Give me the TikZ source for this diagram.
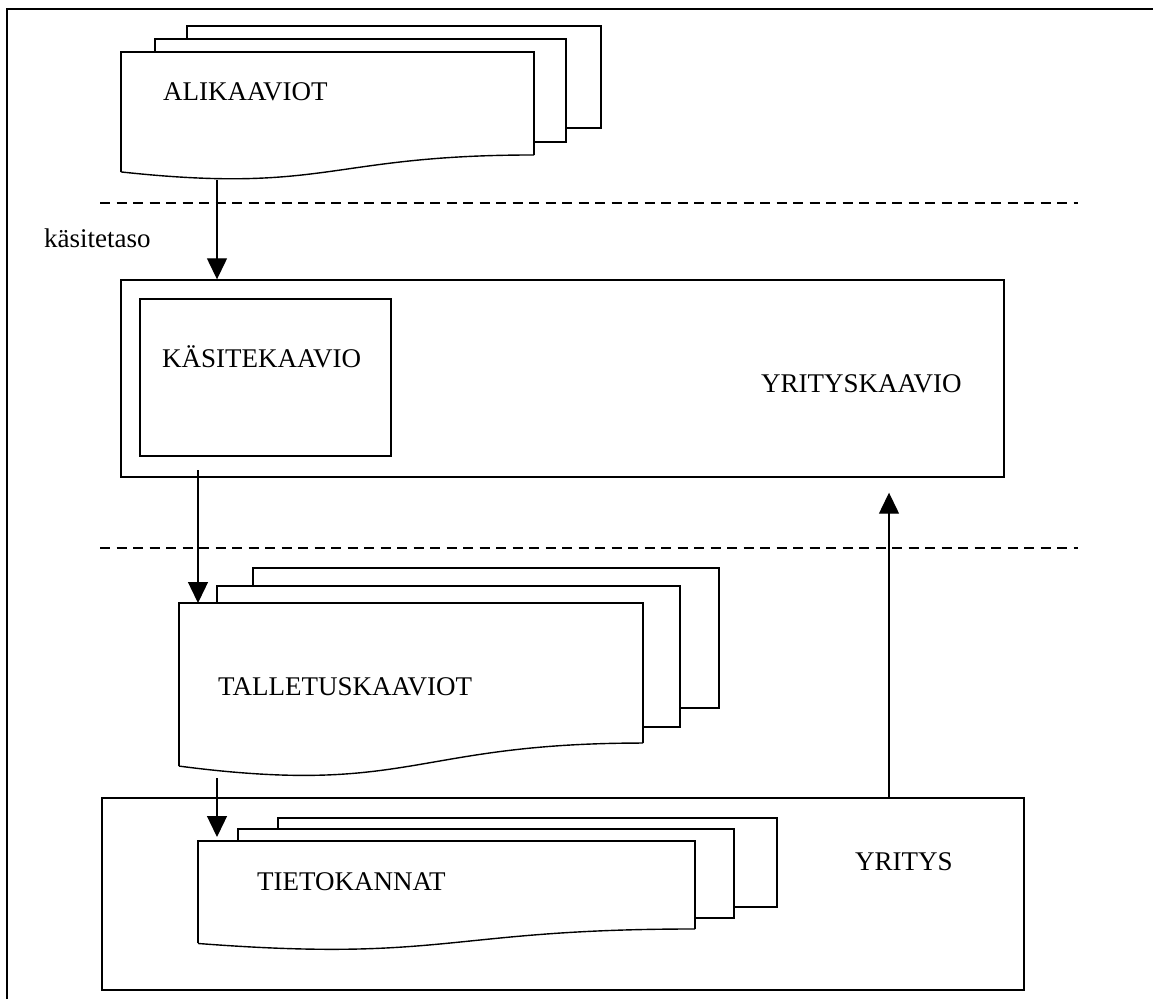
\documentclass[tikz,border=0pt]{standalone}
\usepackage{fontspec}
\setmainfont{Liberation Serif}
\usetikzlibrary{arrows.meta}

% front sheet of a document stack: left, top, right, height
\newcommand{\drawdocfront}[4]{%
  \fill[white] (#1,#2) -- (#3,#2) -- (#3,{#2+0.802*#4})
    .. controls ({(#1+#3)/2},{#2+0.802*#4}) and ({(#1+#3)/2},{#2+1.1075*#4})
    .. (#1,{#2+0.934*#4}) -- cycle;
  \draw[edge] (#1,{#2+0.934*#4}) -- (#1,#2) -- (#3,#2) -- (#3,{#2+0.802*#4});
  \draw[edge] (#3,{#2+0.802*#4})
    .. controls ({(#1+#3)/2},{#2+0.802*#4}) and ({(#1+#3)/2},{#2+1.1075*#4})
    .. (#1,{#2+0.934*#4});}

\tikzset{
  edge/.style={line width=1.4pt, line join=miter},
  page/.style={draw, fill=white, line width=1.4pt, line join=miter},
  box/.style={draw, line width=1.4pt, fill=white, inner sep=0pt},
  label/.style={anchor=base west, inner sep=0pt, font=\fontsize{27}{31}\selectfont},
  arr/.style={line width=1.3pt, -{Triangle[length=21pt,width=20pt]}},
  level/.style={line width=1.5pt, dash pattern=on 10pt off 6.5pt},
  frame/.style={line width=2.2pt}
}

\begin{document}
\begin{tikzpicture}[x=1pt,y=-1pt]
\useasboundingbox (0,0) rectangle (1153,999);

% page frame (top and left edges)
\draw[frame] (7,999) -- (7,9) -- (1153,9);

% level separators
\draw[level] (100,203) -- (1078,203);
\draw[level] (100,548) -- (1078,548);

% sub-schemas stack
\draw[page] (187,26) rectangle (601,128);
\draw[page] (155,39) rectangle (566,142);
\drawdocfront{121}{52}{534}{128.4}
\coordinate (ali-out) at (217,180);
\node[label] (alit) at (163,100) {ALIKAAVIOT};

\node[label] (taso) at (44,247) {käsitetaso};

% enterprise schema with conceptual schema
\node[box, minimum width=883pt, minimum height=197pt] (yk) at (562.5,378.5) {};
\node[box, minimum width=251pt, minimum height=157pt] (ks) at (265.5,377.5) {};
\node[label] (kst) at (162,367) {KÄSITEKAAVIO};
\node[label] (ykt) at (761,392) {YRITYSKAAVIO};
\coordinate (ks-out) at (198,470);

% storage schemas stack
\draw[page] (253,568) rectangle (719,708);
\draw[page] (217,586) rectangle (680,727);
\drawdocfront{179}{603}{643}{174.6}
\coordinate (tal-top) at (179,603);
\coordinate (tal-out) at (217,778);
\node[label] (talt) at (218,695) {TALLETUSKAAVIOT};

% enterprise with databases
\node[box, minimum width=922pt, minimum height=192pt] (yr) at (563,894) {};
\node[label] (yrt) at (855,870) {YRITYS};
\draw[page] (278,818) rectangle (777,907);
\draw[page] (238,829) rectangle (734,918);
\drawdocfront{198}{841}{695}{109.7}
\coordinate (tie-top) at (198,841);
\node[label] (tiet) at (257,890) {TIETOKANNAT};
\coordinate (yr-out) at (889,798);

% connectors
\draw[arr] (ali-out) -- (ali-out |- yk.north);
\draw[arr] (ks-out) -- (ks-out |- tal-top);
\draw[arr, shorten >=4pt] (tal-out) -- (tal-out |- tie-top);
\draw[arr, shorten >=15pt] (yr-out) -- (yr-out |- yk.south);
\end{tikzpicture}
\end{document}
